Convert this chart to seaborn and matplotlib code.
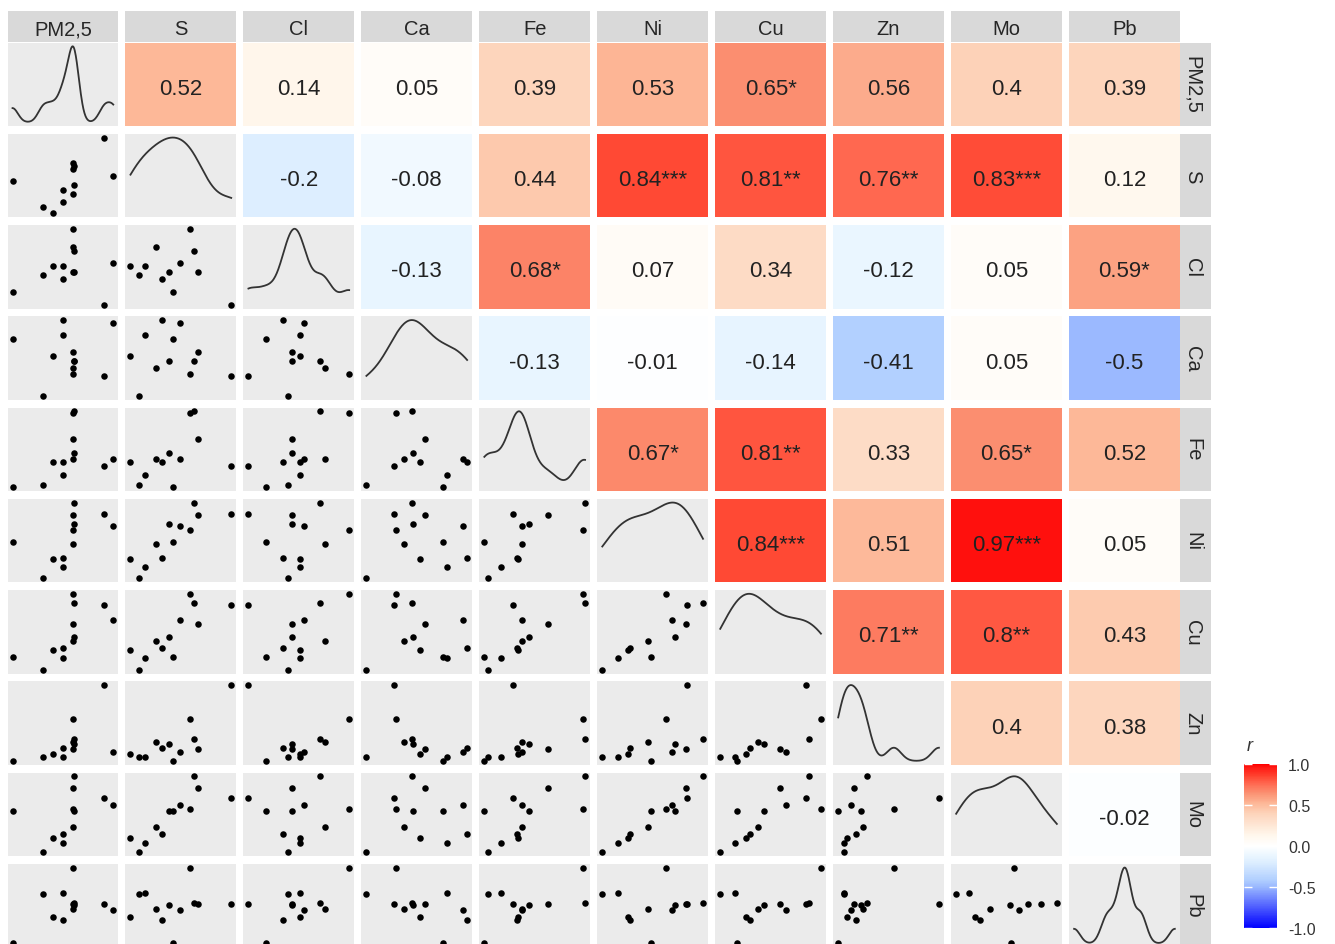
import numpy as np
import pandas as pd
import matplotlib
matplotlib.use("Agg")
import matplotlib.pyplot as plt
import seaborn as sns
from matplotlib.colors import LinearSegmentedColormap, Normalize

# ---------------- data (12 samples, relative units) ----------------
variables = ["PM2,5", "S", "Cl", "Ca", "Fe", "Ni", "Cu", "Zn", "Mo", "Pb"]

pm25 = [4.8, 32.4, 40.8, 50.5, 50.5, 59.5, 60.0, 59.5, 60.0, 59.5, 87.4, 95.5]
s_   = [42.8, 12.0, 4.5, 33.1, 17.8, 65.1, 61.4, 57.8, 38.9, 27.7, 95.2, 49.1]
cl   = [20.0, 40.0, 50.8, 35.2, 50.8, 44.0, 69.2, 96.0, 44.0, 74.0, 4.0, 54.8]
ca   = [74.2, 4.0, 53.2, 96.8, 78.2, 58.0, 46.4, 31.0, 47.2, 38.3, 29.0, 92.7]
fe   = [4.4, 7.6, 35.3, 34.5, 19.7, 62.7, 96.8, 95.2, 45.8, 38.6, 30.5, 38.6]
ni   = [48.6, 4.8, 28.5, 29.7, 18.9, 80.7, 96.0, 62.7, 70.7, 46.6, 81.9, 67.9]
cu   = [19.7, 4.0, 27.7, 30.9, 17.7, 59.0, 85.1, 96.0, 43.8, 38.2, 82.3, 63.9]
zn   = [6.0, 11.2, 14.1, 22.1, 11.2, 20.5, 32.1, 56.6, 26.5, 28.5, 97.6, 17.3]
mo   = [55.4, 5.2, 22.5, 27.3, 16.5, 82.7, 96.8, 57.4, 54.6, 35.7, 70.7, 62.7]
pb   = [5.6, 65.1, 37.8, 33.7, 66.7, 53.0, 53.8, 96.8, 52.2, 47.4, 53.0, 45.8]

# correlation coefficients shown in the upper triangle (row variable vs. later columns)
r_pm25 = [0.52, 0.14, 0.05, 0.39, 0.53, 0.65, 0.56, 0.4, 0.39]
r_s    = [-0.2, -0.08, 0.44, 0.84, 0.81, 0.76, 0.83, 0.12]
r_cl   = [-0.13, 0.68, 0.07, 0.34, -0.12, 0.05, 0.59]
r_ca   = [-0.13, -0.01, -0.14, -0.41, 0.05, -0.5]
r_fe   = [0.67, 0.81, 0.33, 0.65, 0.52]
r_ni   = [0.84, 0.51, 0.97, 0.05]
r_cu   = [0.71, 0.8, 0.43]
r_zn   = [0.4, 0.38]
r_mo   = [-0.02]

sig_pm25 = ["", "", "", "", "", "*", "", "", ""]
sig_s    = ["", "", "", "***", "**", "**", "***", ""]
sig_cl   = ["", "*", "", "", "", "", "*"]
sig_ca   = ["", "", "", "", "", ""]
sig_fe   = ["*", "**", "", "*", ""]
sig_ni   = ["***", "", "***", ""]
sig_cu   = ["**", "**", ""]
sig_zn   = ["", ""]
sig_mo   = [""]

cbar_ticks = [-1.0, -0.5, 0.0, 0.5, 1.0]

data = pd.DataFrame(dict(zip(variables, [pm25, s_, cl, ca, fe, ni, cu, zn, mo, pb])))
r_rows = [r_pm25, r_s, r_cl, r_ca, r_fe, r_ni, r_cu, r_zn, r_mo]
sig_rows = [sig_pm25, sig_s, sig_cl, sig_ca, sig_fe, sig_ni, sig_cu, sig_zn, sig_mo]

# ---------------- style ----------------
plt.rcParams['font.family'] = ['Liberation Sans', 'DejaVu Sans']
anchor_vals = [-1.0, -0.5, -0.41, -0.2, -0.12, 0.0, 0.12, 0.39, 0.52, 0.65, 0.76, 0.84, 0.97, 1.0]
anchor_cols = ["#0000FF", "#9AB8FF", "#B2D0FF", "#DDEEFF", "#EAF6FF", "#FFFFFF", "#FFF8EE",
               "#FDD5BC", "#FDB898", "#FB9071", "#FF6A52", "#FF4A35", "#FF1510", "#FF0000"]
cmap = LinearSegmentedColormap.from_list(
    "corr", list(zip([(v + 1) / 2 for v in anchor_vals], anchor_cols)))
cnorm = Normalize(-1, 1)

PANEL_BG = "#EBEBEB"
STRIP_BG = "#D9D9D9"
TXT = "#262626"

W, H = 1335, 945
fig = plt.figure(figsize=(W / 100, H / 100), dpi=100)
fig.patch.set_facecolor("white")


def ax_px(x, y, w, h):
    return fig.add_axes([x / W, 1 - (y + h) / H, w / W, h / H])


def clean(ax):
    ax.set_xticks([])
    ax.set_yticks([])
    ax.set_xlabel("")
    ax.set_ylabel("")
    for sp in ax.spines.values():
        sp.set_visible(False)


col_x0, col_step, pw = 7.5, 117.95, 110.8
row_y0, row_step, ph = 43.5, 91.25, 83.5
n = len(variables)

lims = {}
for v in variables:
    lo, hi = data[v].min(), data[v].max()
    pad = 0.05 * (hi - lo)
    lims[v] = (lo - pad, hi + pad)

for i, rv in enumerate(variables):
    for j, cv in enumerate(variables):
        x = col_x0 + j * col_step
        y = row_y0 + i * row_step
        ax = ax_px(x, y, pw, ph)
        if i == j:
            ax.set_facecolor(PANEL_BG)
            vals = data[cv].to_numpy()
            sd = vals.std(ddof=1)
            q1, q3 = np.percentile(vals, [25, 75])
            adj = 0.9 * min(sd, (q3 - q1) / 1.34) / sd
            sns.kdeplot(x=data[cv], ax=ax, cut=0, bw_adjust=adj,
                        color="#333333", linewidth=1.3)
            ymax = ax.lines[0].get_ydata().max()
            ax.set_ylim(-0.05 * ymax, 1.05 * ymax)
            ax.set_xlim(*lims[cv])
        elif i > j:
            ax.set_facecolor(PANEL_BG)
            sns.scatterplot(data=data, x=cv, y=rv, ax=ax, color="black",
                            s=22, linewidth=0, legend=False)
            ax.set_xlim(*lims[cv])
            ax.set_ylim(*lims[rv])
        else:
            r = r_rows[i][j - i - 1]
            star = sig_rows[i][j - i - 1]
            ax.set_facecolor(cmap(cnorm(r)))
            ax.text(0.5, 0.385, f"{r:g}{star}", transform=ax.transAxes,
                    ha="center", va="baseline", fontsize=16, color="#222222")
        clean(ax)

# top strips
for j, cv in enumerate(variables):
    sax = ax_px(col_x0 + j * col_step, 11.7, pw, 31.6)
    sax.set_facecolor(STRIP_BG)
    sax.text(0.5, 0.26, cv, transform=sax.transAxes, ha="center", va="baseline",
             fontsize=14.5, color=TXT)
    clean(sax)

# right strips
for i, rv in enumerate(variables):
    sax = ax_px(col_x0 + (n - 1) * col_step + pw, row_y0 + i * row_step, 31.0, ph)
    sax.set_facecolor(STRIP_BG)
    sax.text(0.42, 0.5, rv, transform=sax.transAxes, ha="center", va="center",
             fontsize=14.5, color=TXT, rotation=270)
    clean(sax)

# colour bar
cax = ax_px(1244, 765, 33, 164)
sm = plt.cm.ScalarMappable(norm=cnorm, cmap=cmap)
cb = fig.colorbar(sm, cax=cax)
cb.outline.set_visible(False)
cb.set_ticks(cbar_ticks)
cb.set_ticklabels([f"{t:.1f}" for t in cbar_ticks])
cax.tick_params(direction="in", length=6, width=1, color="white", left=True,
                right=True, labelleft=False, labelright=True, labelsize=11.5,
                labelcolor="#333333", pad=8)
fig.text(1247 / W, 1 - 747 / H, "r", fontsize=13, style="italic", color="#333333",
         ha="left", va="center")

fig.savefig("out.png", dpi=100)
